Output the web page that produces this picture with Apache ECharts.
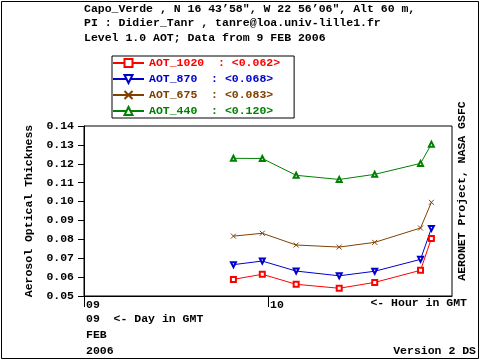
<!DOCTYPE html>
<html><head><meta charset="utf-8">
<script src="https://cdn.jsdelivr.net/npm/echarts@6/dist/echarts.min.js"></script>
<style>html,body{margin:0;padding:0;background:#fff}#c{width:480px;height:360px}</style>
</head><body><div id="c"></div>
<script>
var hours = [9.812, 9.969, 10.153, 10.387, 10.580, 10.829, 10.888];
var aot1020 = [0.0588, 0.0615, 0.0562, 0.0541, 0.0572, 0.0636, 0.0805];
var aot870  = [0.0666, 0.0685, 0.0632, 0.0607, 0.0631, 0.0694, 0.0858];
var aot675  = [0.0817, 0.0832, 0.0770, 0.0759, 0.0784, 0.0860, 0.0996];
var aot440  = [0.1229, 0.1228, 0.1139, 0.1117, 0.1144, 0.1202, 0.1304];
var seriesNames = ['AOT_1020', 'AOT_870', 'AOT_675', 'AOT_440'];
var seriesMeans = ['0.062', '0.068', '0.083', '0.120'];
var yTicks = ['0.05','0.06','0.07','0.08','0.09','0.10','0.11','0.12','0.13','0.14'];
var xTickLabels = ['09', '10'];

var FONT = '"Liberation Mono", "DejaVu Sans Mono", monospace';
var FS = 11.5;
var colors = ['#ff0000', '#0000cc', '#804000', '#008000'];
var symbols = ['emptyRect', 'emptyTriangle', 'path://M0,0L10,10M10,0L0,10', 'emptyTriangle'];
var rotates = [0, 180, 0, 0];
var allData = [aot1020, aot870, aot675, aot440];

function pairs(arr){ return arr.map(function(v,i){ return [hours[i], v]; }); }

var series = allData.map(function(arr, k){
  return {
    name: seriesNames[k], type: 'line', data: pairs(arr),
    symbol: symbols[k], symbolSize: 5, symbolRotate: rotates[k],
    lineStyle: {color: colors[k], width: 1},
    itemStyle: {color: k === 2 ? 'rgba(0,0,0,0)' : colors[k], borderColor: colors[k], borderWidth: 1},
    emphasis: {disabled: true}, animation: false
  };
});

var chart = echarts.init(document.getElementById('c'), null, {renderer: 'canvas'});
chart.setOption({
  animation: false,
  title: {
    text: 'Capo_Verde , N 16 43\u201958", W 22 56\u201906", Alt 60 m,\nPI : Didier_Tanr , tanre@loa.univ-lille1.fr\nLevel 1.0 AOT; Data from 9 FEB 2006',
    left: 80, top: 1.5, padding: [0, 4],
    textStyle: {fontFamily: FONT, fontSize: FS, fontWeight: 'bold', color: '#000', lineHeight: 14.5}
  },
  legend: {
    orient: 'vertical', left: 112, top: 56, padding: [1, 14, 1, 0],
    itemWidth: 31, itemHeight: 10, itemGap: 4,
    borderColor: '#000', borderWidth: 1, selectedMode: false,
    data: seriesNames.map(function(n, k){ return {name: n, textStyle: {color: colors[k]}}; }),
    formatter: function(name){
      var k = seriesNames.indexOf(name);
      return name + '  : <' + seriesMeans[k] + '>';
    },
    textStyle: {fontFamily: FONT, fontSize: FS, fontWeight: 'bold'}
  },
  grid: {left: 84, top: 126, width: 368, height: 170, show: true, borderColor: '#000', borderWidth: 1, containLabel: false},
  xAxis: {
    type: 'value', min: 9, max: 11, interval: 1,
    axisLine: {show: true, lineStyle: {color: '#000'}},
    splitLine: {show: false},
    axisTick: {show: true, length: 11, customValues: [9, 10], lineStyle: {color: '#000'}},
    axisLabel: {
      customValues: [9, 10], align: 'left', margin: 3, padding: [0, 0, 0, 2],
      formatter: function(v){ return xTickLabels[Math.round(v) - 9]; },
      fontFamily: FONT, fontSize: FS, fontWeight: 'bold', color: '#000'
    }
  },
  yAxis: {
    type: 'value', min: 0.05, max: 0.14, interval: 0.01,
    name: 'Aerosol Optical Thickness', nameLocation: 'middle', nameGap: 48, nameRotate: 90,
    nameTextStyle: {fontFamily: FONT, fontSize: FS, fontWeight: 'bold', color: '#000'},
    axisLine: {show: true, lineStyle: {color: '#000'}},
    splitLine: {show: false},
    axisTick: {show: true, length: 6, lineStyle: {color: '#000'}},
    axisLabel: {
      margin: 10,
      formatter: function(v){ return yTicks[Math.round((v - 0.05) * 100)]; },
      fontFamily: FONT, fontSize: FS, fontWeight: 'bold', color: '#000'
    }
  },
  graphic: [
    {type: 'rect', shape: {x: 1.5, y: 1.5, width: 477, height: 357}, style: {fill: 'none', stroke: '#000', lineWidth: 1}, silent: true},
    {type: 'text', x: 462, y: 191, rotation: Math.PI / 2,
      style: {text: 'AERONET Project, NASA GSFC', fontFamily: FONT, fontSize: FS, fontWeight: 'bold', fill: '#000', align: 'center', verticalAlign: 'middle'}},
    {type: 'text', x: 467, y: 303,
      style: {text: '<- Hour in GMT', fontFamily: FONT, fontSize: FS, fontWeight: 'bold', fill: '#000', align: 'right', verticalAlign: 'middle'}},
    {type: 'text', x: 86, y: 319,
      style: {text: '09  <- Day in GMT', fontFamily: FONT, fontSize: FS, fontWeight: 'bold', fill: '#000', align: 'left', verticalAlign: 'middle'}},
    {type: 'text', x: 86, y: 335,
      style: {text: 'FEB', fontFamily: FONT, fontSize: FS, fontWeight: 'bold', fill: '#000', align: 'left', verticalAlign: 'middle'}},
    {type: 'text', x: 86, y: 351,
      style: {text: '2006', fontFamily: FONT, fontSize: FS, fontWeight: 'bold', fill: '#000', align: 'left', verticalAlign: 'middle'}},
    {type: 'text', x: 476, y: 351,
      style: {text: 'Version 2 DS', fontFamily: FONT, fontSize: FS, fontWeight: 'bold', fill: '#000', align: 'right', verticalAlign: 'middle'}}
  ],
  series: series
});
</script></body></html>
